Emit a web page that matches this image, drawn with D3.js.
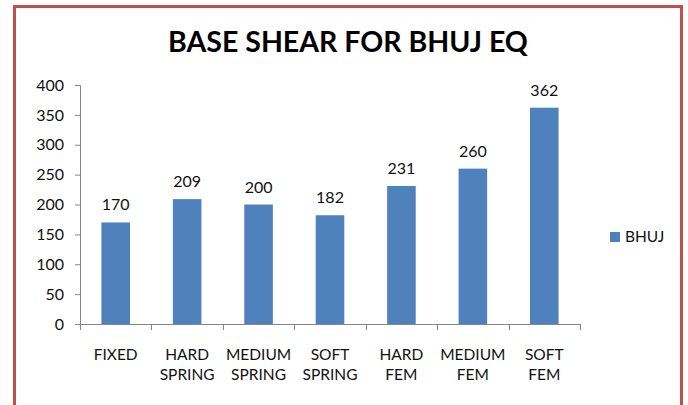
<!DOCTYPE html>
<html><head><meta charset="utf-8">
<script src="https://cdn.jsdelivr.net/npm/d3@7"></script>
<style>body{margin:0;background:#fff;} svg{display:block;}</style>
</head><body>
<svg id="chart" width="688" height="405"></svg>
<script>
const categories = [["FIXED"],["HARD","SPRING"],["MEDIUM","SPRING"],["SOFT","SPRING"],["HARD","FEM"],["MEDIUM","FEM"],["SOFT","FEM"]];
const values = [170, 209, 200, 182, 231, 260, 362];
const yTicks = [0, 50, 100, 150, 200, 250, 300, 350, 400];
const seriesName = "BHUJ";
const title = "BASE SHEAR FOR BHUJ EQ";

const svg = d3.select("#chart");
const font = "Lato, 'Open Sans', sans-serif";
svg.append("rect").attr("x",14.5).attr("y",6.5).attr("width",667).attr("height",420)
  .attr("fill","#fff").attr("stroke","#C0504D").attr("stroke-width",3);

const x0 = 80, x1 = 580, yTop = 85, yBot = 324;
const keys = categories.map(c => c.join(" "));
const x = d3.scaleBand().domain(keys).range([x0, x1]).paddingInner(0.6).paddingOuter(0.3);
const y = d3.scaleLinear().domain([0, 400]).range([yBot, yTop]);

svg.append("text").attr("x",348).attr("y",52).attr("text-anchor","middle")
  .attr("font-family",font).attr("font-weight","bold").attr("font-size",28.5).attr("fill","#000").text(title);

const yAxis = svg.append("g").attr("transform",`translate(${x0},0)`)
  .call(d3.axisLeft(y).tickValues(yTicks).tickSize(5).tickPadding(11).tickFormat(d3.format("d")));
yAxis.select(".domain").attr("stroke","#868686").attr("d",`M-5,${yTop+0.5}H0.5V${yBot}`);
yAxis.selectAll(".tick line").attr("stroke","#868686");
yAxis.selectAll("text").attr("font-family",font).attr("font-size",16).attr("fill","#111");

// x axis line and ticks at band boundaries
const xg = svg.append("g");
xg.append("line").attr("x1",x0).attr("x2",x1).attr("y1",yBot+0.5).attr("y2",yBot+0.5).attr("stroke","#868686");
d3.range(keys.length+1).forEach(i => {
  const px = Math.round(x0 + i*(x1-x0)/keys.length) + 0.5;
  xg.append("line").attr("x1",px).attr("x2",px).attr("y1",yBot).attr("y2",yBot+6).attr("stroke","#868686");
});
categories.forEach((c,i) => {
  const cx = x(keys[i]) + x.bandwidth()/2;
  const t = xg.append("text").attr("text-anchor","middle").attr("font-family",font).attr("font-size",15.5).attr("fill","#111");
  c.forEach((line,j) => t.append("tspan").attr("x",cx).attr("y",360 + j*20).text(line));
});

svg.selectAll("rect.bar").data(values).join("rect").attr("class","bar")
  .attr("x",(d,i)=>x(keys[i])).attr("width",x.bandwidth())
  .attr("y",d=>y(d)).attr("height",d=>yBot-y(d)).attr("fill","#4F81BD");

svg.selectAll("text.lbl").data(values).join("text").attr("class","lbl")
  .attr("x",(d,i)=>x(keys[i])+x.bandwidth()/2).attr("y",d=>y(d)-12)
  .attr("text-anchor","middle").attr("font-family",font).attr("font-size",16).attr("fill","#111").text(d=>d);

svg.append("rect").attr("x",610).attr("y",232).attr("width",10).attr("height",10).attr("fill","#4F81BD");
svg.append("text").attr("x",625).attr("y",242).attr("font-family",font).attr("font-size",15.5).attr("fill","#111").text(seriesName);
</script>
</body></html>
